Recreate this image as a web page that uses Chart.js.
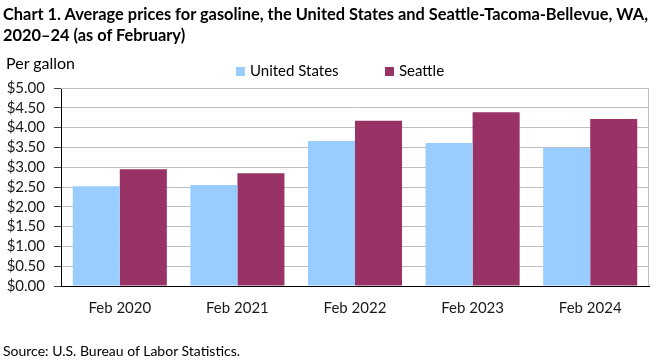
<!DOCTYPE html>
<html>
<head>
<meta charset="utf-8">
<script src="https://cdn.jsdelivr.net/npm/chart.js@4/dist/chart.umd.min.js"></script>
<style>
  body { margin: 0; background: #fff; font-family: Lato, "Liberation Sans", sans-serif; color: #000; }
  #wrap { position: relative; width: 661px; height: 361px; overflow: hidden; }
  #myChart { position: absolute; left: 0; top: 0; }
  .txt { position: absolute; white-space: nowrap; line-height: normal; }
  #title { left: 3px; top: 3px; font-weight: bold; font-size: 16.4px; line-height: 21px; }
  #unit { left: 6px; top: 53px; font-size: 16px; }
  #source { left: 3px; top: 342px; font-size: 14px; }
  #legend { position: absolute; top: 61px; left: 236px; font-size: 15px; }
  .item { position: absolute; top: 0; white-space: nowrap; }
  .box { display: inline-block; width: 9px; height: 9px; margin-right: 5px; vertical-align: 0; }
</style>
</head>
<body>
<div id="wrap">
  <canvas id="myChart" width="661" height="361"></canvas>
  <div class="txt" id="title">Chart 1. Average prices for gasoline, the United States and Seattle-Tacoma-Bellevue, WA,<br>2020–24 (as of February)</div>
  <div class="txt" id="unit">Per gallon</div>
  <div id="legend"></div>
  <div class="txt" id="source">Source: U.S. Bureau of Labor Statistics.</div>
</div>
<script>
const categories = ['Feb 2020', 'Feb 2021', 'Feb 2022', 'Feb 2023', 'Feb 2024'];
const usPrices = [2.52, 2.55, 3.66, 3.61, 3.49];
const seattlePrices = [2.95, 2.85, 4.17, 4.39, 4.22];
const seriesNames = ['United States', 'Seattle'];
const seriesColors = ['#99ccff', '#993366'];

// gray frame on top and right of the plot area
const frame = {
  id: 'frame',
  afterDatasetsDraw(chart) {
    const { ctx, chartArea: a } = chart;
    ctx.save();
    ctx.strokeStyle = '#bfbfbf';
    ctx.lineWidth = 1;
    ctx.beginPath();
    ctx.moveTo(a.left, a.top + 0.5);
    ctx.lineTo(a.right - 0.5, a.top + 0.5);
    ctx.lineTo(a.right - 0.5, a.bottom);
    ctx.stroke();
    ctx.restore();
  }
};

const font = { family: 'Lato, "Liberation Sans", sans-serif', size: 15, lineHeight: 1 };

var ctx = document.getElementById('myChart');
var myChart = new Chart(ctx, {
  type: 'bar',
  data: {
    labels: categories,
    datasets: [{
      label: seriesNames[0],
      data: usPrices,
      backgroundColor: seriesColors[0],
      borderWidth: 0
    }, {
      label: seriesNames[1],
      data: seattlePrices,
      backgroundColor: seriesColors[1],
      borderWidth: 0
    }]
  },
  options: {
    responsive: false,
    animation: false,
    layout: { padding: { top: 88, right: 12, bottom: 0, left: 0 } },
    datasets: { bar: { categoryPercentage: 0.8, barPercentage: 1.0 } },
    plugins: {
      legend: { display: false },
      tooltip: { enabled: false }
    },
    scales: {
      x: {
        grid: { display: false, drawTicks: false },
        border: { display: true, color: '#000', width: 1 },
        ticks: { color: '#1a1a1a', font: font, padding: 15 },
        afterFit(scale) { scale.height = 75; }
      },
      y: {
        min: 0,
        max: 5,
        ticks: {
          stepSize: 0.5,
          autoSkip: false,
          color: '#1a1a1a',
          font: font,
          padding: 9,
          callback: v => '$' + Number(v).toFixed(2)
        },
        grid: {
          color: '#bfbfbf',
          borderDash: [4, 3],
          tickLength: 7,
          tickColor: '#404040',
          tickBorderDash: []
        },
        border: { display: true, color: '#000', width: 1 },
        afterFit(scale) { scale.width = 61; }
      }
    }
  },
  plugins: [frame]
});

// legend built from the chart's datasets
const legendEl = document.getElementById('legend');
const itemLeft = [0, 149];
myChart.data.datasets.forEach((ds, i) => {
  const item = document.createElement('div');
  item.className = 'item';
  item.style.left = itemLeft[i] + 'px';
  item.innerHTML = '<span class="box" style="background:' + ds.backgroundColor + '"></span>' + ds.label;
  legendEl.appendChild(item);
});
</script>
</body>
</html>
